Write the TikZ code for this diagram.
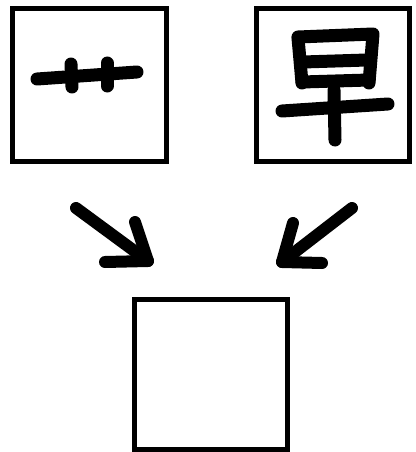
\documentclass[tikz,border=0pt]{standalone}
\usetikzlibrary{positioning}
\begin{document}
\begin{tikzpicture}[x=1pt,y=-1pt,
    box/.style={draw,line width=5pt,inner sep=0pt,minimum width=153pt,minimum height=153pt},
    brush/.style={line width=13pt,line cap=round,line join=round}]
                \useasboundingbox (0,0) rectangle (415,452);
                % boxes
                \node[box,minimum width=154pt] (radical) at (89.5,85) {};
                \node[box] (zao) at (333,85) {};
                \node[box,minimum height=150pt] (result) at (211,374.5) {};

                % radical strokes
                \draw[brush] (37,79) -- (137,72);
                \draw[brush] (71,64) -- (72,87);
                \draw[brush] (107,63) -- (107,86);

                % zao strokes
                \draw[brush] (298,38) -- (302,83);
                \draw[brush] (298,37) -- (373,34) -- (369,83);
                \draw[brush] (303,62) -- (367,60);
                \draw[brush] (302,82) -- (369,80);
                \draw[brush] (282,111) -- (388,104);
                \draw[brush] (334,90) -- (335,140);

                % arrows
                \coordinate (ltail) at (76,208);
                \coordinate (ltip) at (148,261);
                \coordinate (rtail) at (352,208);
                \coordinate (rtip) at (282,262);
                \draw[brush,line width=12pt] (ltail) -- (ltip);
                \draw[brush,line width=12pt] (135,222) -- (ltip) -- (105,262);
                \draw[brush,line width=12pt] (rtail) -- (rtip);
                \draw[brush,line width=12pt] (293,223) -- (rtip) -- (322,263);
            \end{tikzpicture}
\end{document}
